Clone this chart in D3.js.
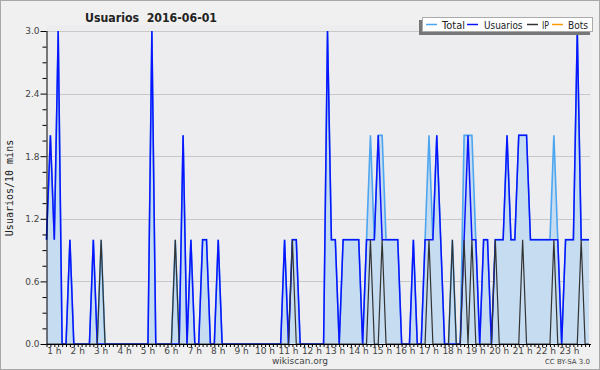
<!DOCTYPE html>
<html>
<head>
<meta charset="utf-8">
<script src="https://cdn.jsdelivr.net/npm/d3@7"></script>
<style>
html,body{margin:0;padding:0;background:#f0f0f0;}
svg{display:block;}
</style>
</head>
<body>
<svg id="chart" width="600" height="370"></svg>
<script>
// ---- data (10-minute buckets, first bucket 00:40, last 23:50) ----
const startMinute = 40;
const stepMinutes = 10;
const usuarios = [1,2,1,3,0,0,1,0,0,0, 0,0,1,0,0,0,0,0,0,0, 0,0,0,0,0,0,0,3,0,0,
  0,0,0,0,0,2,0,1,0,0, 1,1,0,0,1,0,0,0,0,0, 0,0,0,0,0,0,0,0,0,0,
  0,1,0,1,1,0,0,0,0,0, 0,0,3,1,1,0,1,1,1,1, 1,0,1,1,1,2,1,1,1,1,
  1,0,0,0,1,0,0,1,1,1, 2,1,0,0,0,0,0,1,2,1, 1,0,1,1,0,1,1,1,2,1,
  1,2,2,2,1,1,1,1,1,1, 1,1,0,1,1,1,3,1,1,1];
const total = [1,2,1,3,0,0,1,0,0,0, 0,0,1,0,1,0,0,0,0,0, 0,0,0,0,0,0,0,3,0,0,
  0,0,0,1,0,2,0,1,0,0, 1,1,0,0,1,0,0,0,0,0, 0,0,0,0,0,0,0,0,0,0,
  0,1,0,1,1,0,0,0,0,0, 0,0,3,1,1,0,1,1,1,1, 1,0,1,2,1,2,2,1,1,1,
  1,0,0,0,1,0,0,1,2,1, 2,1,0,0,1,0,0,2,2,2, 1,0,1,1,0,1,1,1,2,1,
  1,2,2,2,1,1,1,1,1,1, 2,1,0,1,1,1,3,1,1,1];
const ip = [0,0,0,0,0,0,0,0,0,0, 0,0,0,0,1,0,0,0,0,0, 0,0,0,0,0,0,0,0,0,0,
  0,0,0,1,0,0,0,0,0,0, 0,0,0,0,0,0,0,0,0,0, 0,0,0,0,0,0,0,0,0,0,
  0,0,0,1,0,0,0,0,0,0, 0,0,0,0,0,0,0,0,0,0, 0,0,0,1,0,0,1,0,0,0,
  0,0,0,0,0,0,0,0,1,0, 0,0,0,0,1,0,0,1,0,1, 0,0,0,0,0,1,0,0,0,0,
  0,0,1,0,0,0,0,0,0,0, 1,0,0,0,0,0,0,1,0,0];
const bots = new Array(140).fill(0);
const yTicks = [0, 0.6, 1.2, 1.8, 2.4, 3.0];
const hourLabels = d3.range(1, 24).map(h => h + " h");
const legendLabels = ["Total", "Usuarios", "IP", "Bots"];
const legendColors = ["#4da6ef", "#0a14ff", "#333333", "#ff9900"];

const svg = d3.select("#chart");
const W = 600, H = 370;
const L = 46.5, R = 589, T = 31, B = 344;

// background + frame
svg.append("rect").attr("x",0.5).attr("y",0.5).attr("width",W-1).attr("height",H-1)
  .attr("fill","#f0f0f0").attr("stroke","#a8a8a8");
svg.append("rect").attr("x",L).attr("y",T-6).attr("width",R-L+3).attr("height",B-T+6)
  .attr("fill","#ededef");

const minutes = usuarios.map((d,i) => startMinute + i*stepMinutes);
const x = d3.scaleLinear().domain([startMinute, startMinute + (usuarios.length-1)*stepMinutes]).range([L, R]);
const y = d3.scaleLinear().domain([0, 3]).range([B, T]);

// grid
svg.append("g").selectAll("line").data(yTicks.filter(d=>d>0)).join("line")
  .attr("x1", L).attr("x2", R+1).attr("y1", d=>Math.round(y(d))+0.5).attr("y2", d=>Math.round(y(d))+0.5)
  .attr("stroke","#c8c8c8").attr("stroke-width",1);

// area for total
const area = d3.area().x((d,i)=>x(minutes[i])).y0(B).y1(d=>y(d));
svg.append("path").datum(total).attr("d", area).attr("fill","#c6dcf0");

const line = d3.line().x((d,i)=>x(minutes[i])).y(d=>y(d));
svg.append("path").datum(total).attr("d", line).attr("fill","none").attr("stroke",legendColors[0]).attr("stroke-width",1.6);
svg.append("path").datum(usuarios).attr("d", line).attr("fill","none").attr("stroke",legendColors[1]).attr("stroke-width",1.5);
svg.append("path").datum(ip).attr("d", line).attr("fill","none").attr("stroke",legendColors[2]).attr("stroke-width",1.2);
svg.append("path").datum(bots).attr("d", line).attr("fill","none").attr("stroke",legendColors[3]).attr("stroke-width",1.2).attr("opacity",0);

// y axis
const yAxis = d3.axisLeft(y).tickValues(d3.range(0, 3.0001, 0.15)).tickSize(4)
  .tickFormat(d => { const m = yTicks.find(t => Math.abs(t-d)<1e-6); return m===undefined ? "" : m.toFixed(1); });
const gy = svg.append("g").attr("transform",`translate(${L},0)`).call(yAxis);
gy.select(".domain").attr("stroke","#000").attr("d", `M0.5,${T}V${B}`);
gy.selectAll(".tick line").attr("stroke","#000").attr("x2", d => yTicks.some(t=>Math.abs(t-d)<1e-6) ? -6 : -4);
gy.selectAll(".tick text").attr("x",-7).attr("font-family","DejaVu Sans").attr("font-size",9).attr("fill","#444");

// x axis
const xAxis = d3.axisBottom(x).tickValues(d3.range(startMinute, 1440, 10)).tickSize(3).tickFormat("");
const gx = svg.append("g").attr("transform",`translate(0,${B})`).call(xAxis);
gx.select(".domain").attr("stroke","#000").attr("d", `M${L},0.5H${R+2}`);
gx.selectAll(".tick line").attr("stroke","#000");
svg.append("g").selectAll("text").data(hourLabels).join("text")
  .attr("x", (d,i)=>x((i+1)*60)).attr("y", 354)
  .attr("text-anchor","middle").attr("font-family","DejaVu Sans").attr("font-size",9).attr("fill","#444")
  .text(d=>d);

// titles
svg.append("text").attr("x",85).attr("y",22)
  .attr("font-family","DejaVu Sans").attr("font-weight","bold").attr("font-size",12.5).attr("fill","#222")
  .attr("textLength",132).attr("lengthAdjust","spacingAndGlyphs")
  .attr("xml:space","preserve").text("Usuarios  2016-06-01");
svg.append("text").attr("transform","translate(13,188) rotate(-90)").attr("text-anchor","middle")
  .attr("font-family","DejaVu Sans Mono").attr("font-size",10).attr("fill","#222").text("Usuarios/10 mins");
svg.append("text").attr("x",300).attr("y",364).attr("text-anchor","middle")
  .attr("font-family","DejaVu Sans").attr("font-size",9).attr("fill","#444").text("wikiscan.org");
svg.append("text").attr("x",590).attr("y",364).attr("text-anchor","end")
  .attr("font-family","DejaVu Sans").attr("font-size",7).attr("fill","#444").text("CC BY-SA 3.0");

// legend
const lg = svg.append("g");
lg.append("rect").attr("x",419).attr("y",20).attr("width",171).attr("height",15).attr("fill","#777");
lg.append("rect").attr("x",422.5).attr("y",17.5).attr("width",170).attr("height",14).attr("fill","#fff").attr("stroke","#aaa");
const itemX = [426, 467, 527, 552];
const textX = [442, 484, 542, 568];
const textW = [23, 38.5, 7, 20];
legendLabels.forEach((lab,i)=>{
  lg.append("line").attr("x1",itemX[i]).attr("x2",itemX[i]+11).attr("y1",24.5).attr("y2",24.5)
    .attr("stroke",legendColors[i]).attr("stroke-width",1.5);
  lg.append("text").attr("x",textX[i]).attr("y",28.5).attr("font-family","DejaVu Sans").attr("font-size",10)
    .attr("textLength",textW[i]).attr("lengthAdjust","spacingAndGlyphs")
    .attr("fill","#222").text(lab);
});
</script>
</body>
</html>
